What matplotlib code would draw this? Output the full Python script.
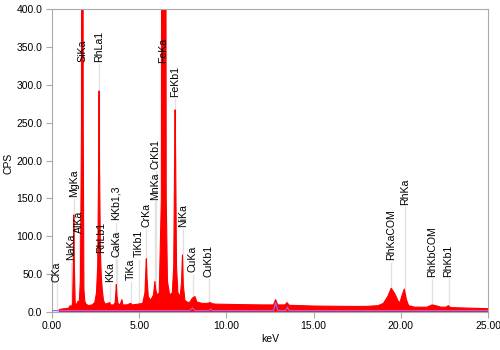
import matplotlib
matplotlib.use("Agg")
import matplotlib.pyplot as plt

plt.rcParams['font.family'] = ['Liberation Sans', 'DejaVu Sans']

# spectrum outline (keV, CPS); peaks above 400 are off scale
energy = [0.42, 0.43, 0.70, 0.95, 1.04, 1.10, 1.18, 1.22, 1.25, 1.28, 1.33, 1.42,
          1.49, 1.56, 1.63, 1.69, 1.74, 1.79, 1.83, 1.88, 1.95, 2.10, 2.30, 2.45,
          2.55, 2.62, 2.67, 2.70, 2.73, 2.78, 2.83, 2.88, 2.95, 3.05, 3.31, 3.36,
          3.55, 3.62, 3.66, 3.69, 3.72, 3.78, 3.90, 4.01, 4.06, 4.30, 4.51, 4.60,
          4.93, 5.20, 5.33, 5.38, 5.41, 5.45, 5.52, 5.65, 5.82, 5.90, 5.94, 6.02,
          6.15, 6.27, 6.40, 6.55, 6.62, 6.75, 6.90, 6.98, 7.03, 7.06, 7.09, 7.14,
          7.22, 7.35, 7.43, 7.48, 7.53, 7.62, 7.80, 7.92, 8.05, 8.20, 8.30, 8.60,
          8.90, 9.08, 9.20, 9.40, 10.5, 12.0, 12.70, 12.82, 12.95, 13.35, 13.48,
          13.60, 15.0, 17.0, 18.0, 18.7, 19.0, 19.25, 19.45, 19.65, 19.85, 19.95,
          20.05, 20.20, 20.32, 20.45, 20.80, 21.5, 21.8, 22.0, 22.3, 22.6, 22.72,
          22.85, 23.5, 25.0]
cps = [0, 3, 4, 4.5, 8, 6, 10, 60, 128, 60, 12, 9,
       14, 12, 40, 250, 1800, 250, 30, 14, 10, 8, 9, 12,
       25, 60, 180, 292, 180, 70, 45, 30, 15, 10, 12, 9,
       9, 12, 25, 36, 22, 11, 9, 16, 9, 9, 11, 9,
       10, 11, 25, 55, 70, 45, 20, 15, 22, 40, 30, 22,
       25, 150, 3000, 150, 40, 22, 25, 60, 200, 267, 200, 60,
       25, 20, 40, 75, 35, 15, 12, 13, 18, 20, 13, 11,
       11, 12, 10.5, 10, 9.5, 9, 9, 16, 9, 9, 12,
       8.5, 7.5, 7, 7, 8, 11, 20, 31, 24, 14, 12,
       20, 30, 16, 8, 6, 6, 9, 8, 6, 6, 8,
       5.5, 5, 4]

# second (purple) trace
energy2 = [0.0, 7.90, 8.05, 8.20, 9.00, 9.10, 9.20, 12.70, 12.82, 12.95,
           13.40, 13.50, 13.60, 25.0]
cps2 = [1.5, 1.5, 5, 1.5, 1.5, 3.5, 1.5, 1.5, 12, 1.5,
        1.5, 6, 1.5, 1.5]

# peak labels: position (keV) and height of label bottom (CPS)
lines = ['CKa', 'NaKa', 'MgKa', 'AlKa', 'SiKa', 'RhLa1', 'RhLb1', 'KKa', 'CaKa',
         'KKb1,3', 'TiKa', 'TiKb1', 'CrKa', 'MnKa', 'CrKb1', 'FeKa', 'FeKb1', 'NiKa',
         'CuKa', 'CuKb1', 'RhKaCOM', 'RhKa', 'RhKbCOM', 'RhKb1']
line_kev = [0.28, 1.08, 1.27, 1.52, 1.74, 2.72, 2.80, 3.33, 3.71,
            3.66, 4.51, 4.97, 5.41, 5.93, 5.96, 6.40, 7.08, 7.50,
            8.07, 9.00, 19.43, 20.22, 21.80, 22.74]
label_y = [39, 68, 152, 104, 330, 330, 78, 39, 72,
           121, 42, 72, 112, 148, 189, 329, 284, 112,
           52, 46, 68, 141, 46, 46]

fig = plt.figure(figsize=(5, 3.5), dpi=100)
ax = fig.add_axes([0.104, 0.1094, 0.872, 0.864])

for name, x, y in zip(lines, line_kev, label_y):
    ax.plot([x, x], [0, y - 3], color='#e2e2e2', lw=1, zorder=1)
    ax.text(x, y, name, rotation=90, ha='center', va='bottom', fontsize=7.6, zorder=4)

ax.fill_between(energy, cps, 0, color='#ff0000', lw=0.8, zorder=2)
ax.plot(energy2, cps2, color='#9966ee', lw=0.9, zorder=3)

ax.set_xlim(0, 25)
ax.set_ylim(0, 400)
ax.set_xticks(range(0, 26, 5))
ax.set_xticklabels([f'{v:.2f}' for v in range(0, 26, 5)])
ax.set_yticks(range(0, 401, 50))
ax.set_yticklabels([f'{v:.1f}' for v in range(0, 401, 50)])
ax.tick_params(direction='out', length=4, color='#aaaaaa', labelsize=7.5, pad=3)

for s in ax.spines.values():
    s.set_color('#aaaaaa')
    s.set_linewidth(0.8)

ax.set_xlabel('keV', fontsize=7.5)
ax.set_ylabel('CPS', fontsize=7.5)
ax.xaxis.set_label_coords(0.5, -0.075)
ax.yaxis.set_label_coords(-0.088, 0.49)

fig.savefig('out.png', dpi=100)
